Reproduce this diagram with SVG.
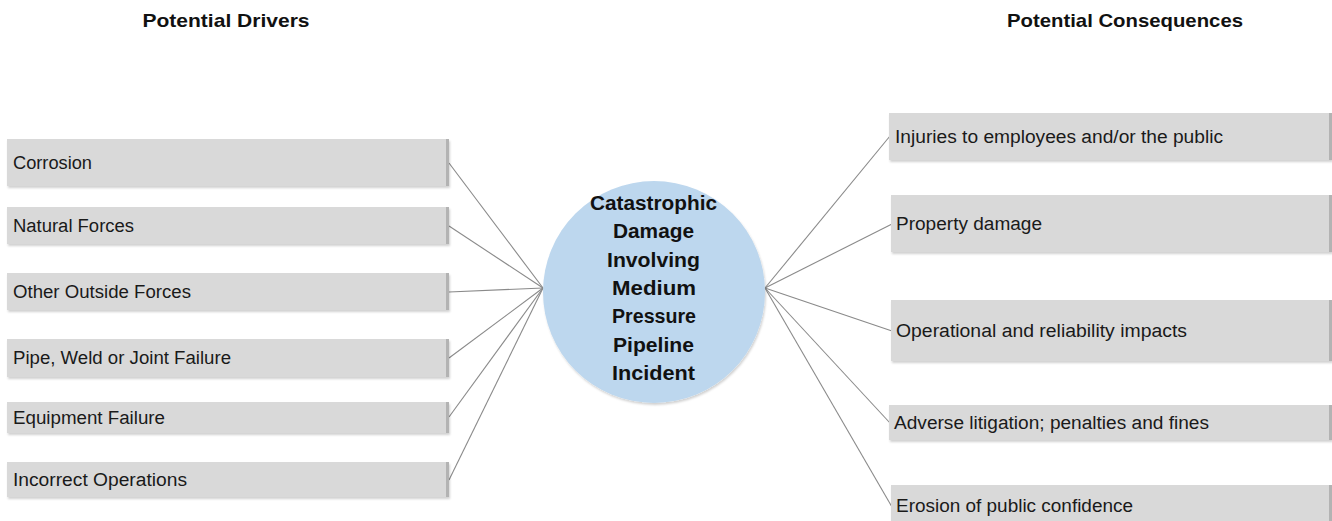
<svg xmlns="http://www.w3.org/2000/svg" width="1332" height="521" viewBox="0 0 1332 521">
<style>
.box{fill:#d9d9d9;}
.edge{fill:#b3b3b3;}
.lbl{font-family:"Liberation Sans",Arial,sans-serif;font-size:18px;fill:#1a1a1a;}
.ttl{font-family:"Liberation Sans",Arial,sans-serif;font-size:19px;font-weight:bold;fill:#111;text-anchor:middle;}
.ctr{font-family:"Liberation Sans",Arial,sans-serif;font-size:20px;font-weight:bold;fill:#111;text-anchor:middle;}
.con line{stroke:#8a8a8a;stroke-width:1.1;}
</style>
<defs>
<filter id="sh" x="-5%" y="-20%" width="110%" height="150%">
<feDropShadow dx="1" dy="2" stdDeviation="1" flood-color="#000" flood-opacity="0.18"/>
</filter>
</defs>
<rect width="1332" height="521" fill="#fff"/>
<text class="ttl" x="226" y="27" textLength="167" lengthAdjust="spacingAndGlyphs">Potential Drivers</text>
<text class="ttl" x="1125" y="27" textLength="236" lengthAdjust="spacingAndGlyphs">Potential Consequences</text>
<g class="con" id="connectors">
<line x1="449" y1="163" x2="543" y2="288"/>
<line x1="449" y1="226" x2="543" y2="288"/>
<line x1="449" y1="292" x2="543" y2="288"/>
<line x1="449" y1="358" x2="543" y2="288"/>
<line x1="449" y1="417" x2="543" y2="288"/>
<line x1="449" y1="480" x2="543" y2="288"/>
<line x1="765" y1="288" x2="890" y2="136"/>
<line x1="765" y1="288" x2="892" y2="224"/>
<line x1="765" y1="288" x2="892" y2="331"/>
<line x1="765" y1="288" x2="890" y2="423"/>
<line x1="765" y1="288" x2="892" y2="507"/>
</g>
<g id="d1"><rect class="box" filter="url(#sh)" x="7" y="139" width="442" height="47"/><rect class="edge" x="446" y="139" width="3" height="47"/><text class="lbl" x="13" y="169" textLength="79" lengthAdjust="spacingAndGlyphs">Corrosion</text></g>
<g id="d2"><rect class="box" filter="url(#sh)" x="7" y="207" width="442" height="37"/><rect class="edge" x="446" y="207" width="3" height="37"/><text class="lbl" x="13" y="232" textLength="121" lengthAdjust="spacingAndGlyphs">Natural Forces</text></g>
<g id="d3"><rect class="box" filter="url(#sh)" x="7" y="273" width="442" height="37"/><rect class="edge" x="446" y="273" width="3" height="37"/><text class="lbl" x="13" y="298" textLength="178" lengthAdjust="spacingAndGlyphs">Other Outside Forces</text></g>
<g id="d4"><rect class="box" filter="url(#sh)" x="7" y="339" width="442" height="38"/><rect class="edge" x="446" y="339" width="3" height="38"/><text class="lbl" x="13" y="364" textLength="218" lengthAdjust="spacingAndGlyphs">Pipe, Weld or Joint Failure</text></g>
<g id="d5"><rect class="box" filter="url(#sh)" x="7" y="402" width="442" height="31"/><rect class="edge" x="446" y="402" width="3" height="31"/><text class="lbl" x="13" y="424" textLength="152" lengthAdjust="spacingAndGlyphs">Equipment Failure</text></g>
<g id="d6"><rect class="box" filter="url(#sh)" x="7" y="462" width="442" height="35"/><rect class="edge" x="446" y="462" width="3" height="35"/><text class="lbl" x="13" y="486" textLength="174" lengthAdjust="spacingAndGlyphs">Incorrect Operations</text></g>
<g id="center">
<circle cx="654" cy="292" r="111" fill="#bdd7ee" filter="url(#sh)"/>
<text class="ctr" x="653.5" y="210" textLength="127" lengthAdjust="spacingAndGlyphs">Catastrophic</text>
<text class="ctr" x="653.5" y="238" textLength="81" lengthAdjust="spacingAndGlyphs">Damage</text>
<text class="ctr" x="653.5" y="267" textLength="93" lengthAdjust="spacingAndGlyphs">Involving</text>
<text class="ctr" x="654" y="295" textLength="84" lengthAdjust="spacingAndGlyphs">Medium</text>
<text class="ctr" x="654" y="323" textLength="84" lengthAdjust="spacingAndGlyphs">Pressure</text>
<text class="ctr" x="653.5" y="352" textLength="81" lengthAdjust="spacingAndGlyphs">Pipeline</text>
<text class="ctr" x="653.5" y="380" textLength="83" lengthAdjust="spacingAndGlyphs">Incident</text>
</g>
<g id="c1"><rect class="box" filter="url(#sh)" x="889" y="113" width="443" height="47"/><rect class="edge" x="1329" y="113" width="3" height="47"/><text class="lbl" x="895" y="143" textLength="328" lengthAdjust="spacingAndGlyphs">Injuries to employees and/or the public</text></g>
<g id="c2"><rect class="box" filter="url(#sh)" x="891" y="195" width="441" height="57"/><rect class="edge" x="1329" y="195" width="3" height="57"/><text class="lbl" x="896" y="230" textLength="146" lengthAdjust="spacingAndGlyphs">Property damage</text></g>
<g id="c3"><rect class="box" filter="url(#sh)" x="891" y="300" width="441" height="61"/><rect class="edge" x="1329" y="300" width="3" height="61"/><text class="lbl" x="896" y="337" textLength="291" lengthAdjust="spacingAndGlyphs">Operational and reliability impacts</text></g>
<g id="c4"><rect class="box" filter="url(#sh)" x="889" y="405" width="443" height="35"/><rect class="edge" x="1329" y="405" width="3" height="35"/><text class="lbl" x="894" y="429" textLength="315" lengthAdjust="spacingAndGlyphs">Adverse litigation; penalties and fines</text></g>
<g id="c5"><rect class="box" filter="url(#sh)" x="891" y="485" width="441" height="40"/><rect class="edge" x="1329" y="485" width="3" height="40"/><text class="lbl" x="896" y="512" textLength="237" lengthAdjust="spacingAndGlyphs">Erosion of public confidence</text></g>
</svg>
